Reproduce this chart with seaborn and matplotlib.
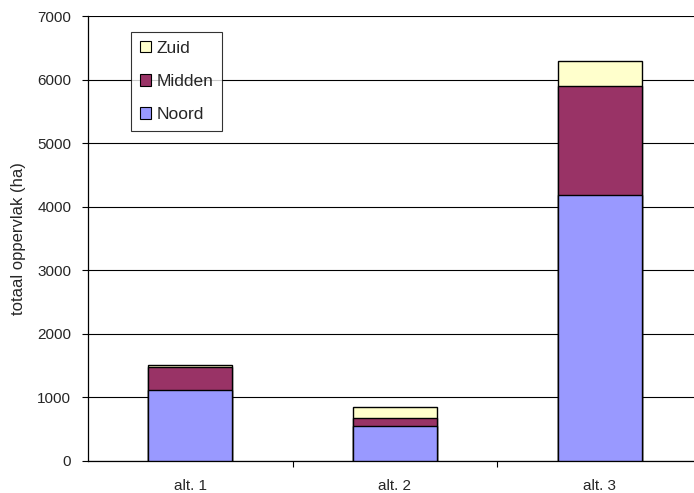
import matplotlib
matplotlib.use("Agg")
import matplotlib.pyplot as plt
import matplotlib.patches as mpatches
import numpy as np
import pandas as pd
import seaborn as sns

# Oppervlak per alternatief en regio (ha)
alternatives = ["alt. 1", "alt. 2", "alt. 3"]
noord = [1110, 550, 4180]
midden = [370, 120, 1720]
zuid = [25, 180, 390]

series_names = ["Noord", "Midden", "Zuid"]
colors = {"Noord": "#9999FF", "Midden": "#993366", "Zuid": "#FFFFCC"}

sns.set_theme(style="white")
plt.rcParams["font.family"] = ["Liberation Sans", "DejaVu Sans"]

df = pd.DataFrame({"alt": alternatives, "Noord": noord, "Midden": midden, "Zuid": zuid})
df["top_noord"] = df["Noord"]
df["top_midden"] = df["Noord"] + df["Midden"]
df["top_zuid"] = df["top_midden"] + df["Zuid"]

fig = plt.figure(figsize=(6.94, 4.93), dpi=100)
ax = fig.add_axes([88 / 694, 1 - 461 / 493, 614 / 694, 445 / 493])

ax.set_ylim(0, 7000)
ax.set_yticks(np.arange(0, 7001, 1000))
ax.yaxis.grid(True, color="#000000", linewidth=0.8)
ax.set_axisbelow(True)

# Stacked bars drawn as cumulative layers, tallest first
for col, name in [("top_zuid", "Zuid"), ("top_midden", "Midden"), ("top_noord", "Noord")]:
    sns.barplot(data=df, x="alt", y=col, color=colors[name], saturation=1,
                width=0.41, edgecolor="black", linewidth=1.0, ax=ax, zorder=3)

ax.set_xlim(-0.5, 2.5)
ax.set_xlabel("")
ax.set_ylabel("totaal oppervlak (ha)", fontsize=12, labelpad=8)
ax.tick_params(axis="y", which="major", direction="out", length=4, width=0.8,
               color="black", labelsize=11, pad=8, left=True)
ax.tick_params(axis="x", which="major", length=0, labelsize=11, pad=13)
ax.set_xticks([0, 1, 2])
ax.set_xticklabels(alternatives)
ax.set_xticks([0.5, 1.5], minor=True)
ax.tick_params(axis="x", which="minor", direction="out", length=4, width=0.8,
               color="black", bottom=True)

for side in ["top", "right"]:
    ax.spines[side].set_visible(False)
for side in ["left", "bottom"]:
    ax.spines[side].set_color("black")
    ax.spines[side].set_linewidth(0.9)

handles = [mpatches.Patch(facecolor=colors[n], edgecolor="black", linewidth=0.8, label=n)
           for n in ["Zuid", "Midden", "Noord"]]
leg = ax.legend(handles=handles, loc="upper left", bbox_to_anchor=(43 / 614, 1 - 16 / 445),
                frameon=True, fancybox=False, edgecolor="black", fontsize=12.5,
                handlelength=0.65, handleheight=0.65, handletextpad=0.3,
                labelspacing=1.05, borderpad=0.5, borderaxespad=0)
leg.get_frame().set_linewidth(0.8)

fig.savefig("out.png", dpi=100)
